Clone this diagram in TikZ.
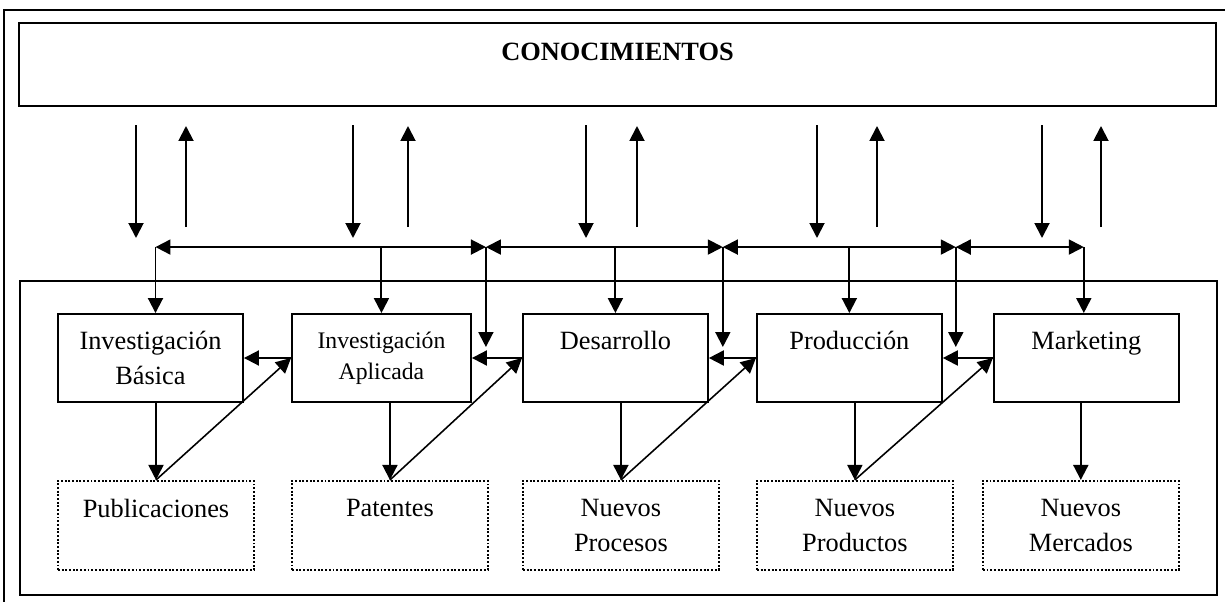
\documentclass[tikz,border=0pt]{standalone}
\usepackage{fontspec}
\setmainfont{Liberation Serif}
\usetikzlibrary{positioning, arrows.meta}

\begin{document}
\begin{tikzpicture}[x=0.02cm, y=-0.02cm, line width=1.1pt, on grid,
    >={Triangle[length=0.3cm, width=0.3cm]},
    stage/.style={draw, rectangle, inner sep=0pt, align=center, minimum width=3.7cm, minimum height=1.76cm, font=\fontsize{15}{19.9}\selectfont},
    result/.style={stage, densely dotted, minimum width=3.92cm, minimum height=1.78cm}]
    \useasboundingbox (0,0) rectangle (1225,602);
    \draw (4,602) |- (1225,10);

    \node[draw, inner sep=0pt, minimum width=23.94cm, minimum height=1.66cm, text depth=15pt, font=\fontsize{15}{19.9}\selectfont\bfseries] (kno) at (617.5,64.5) {CONOCIMIENTOS};
    \node[draw, minimum width=23.94cm, minimum height=6.28cm] (area) at (618.5,438) {};

    % etapas
    \node[stage] (ib) at (150.5,358) {Investigación\\Básica};
    \node[stage, right=4.62cm of ib, minimum width=3.58cm, font=\fontsize{13.5}{17.6}\selectfont] (ia) {Investigación\\Aplicada};
    \node[stage, right=4.68cm of ia] (des) {Desarrollo\\\mbox{}};
    \node[stage, right=4.68cm of des] (prod) {Producción\\\mbox{}};
    \node[stage, right=4.74cm of prod] (mkt) {Marketing\\\mbox{}};

    % resultados
    \node[result, anchor=north west] (pub) at ([yshift=-1.54cm]ib.south west) {Publicaciones\\\mbox{}};
    \node[result, anchor=north west] (pat) at ([yshift=-1.54cm]ia.south west) {Patentes\\\mbox{}};
    \node[result, anchor=north west] (npr) at ([yshift=-1.54cm]des.south west) {Nuevos\\Procesos};
    \node[result, anchor=north west] (npd) at ([yshift=-1.54cm]prod.south west) {Nuevos\\Productos};
    \node[result, anchor=north east] (nme) at ([yshift=-1.54cm]mkt.south east) {Nuevos\\Mercados};

    % flechas con conocimientos
    \foreach \d/\u [count=\i] in {136/186, 353/408, 586/637, 817/877, 1042/1101} {
      \coordinate (dn\i) at (\d,125);
      \coordinate (dnend\i) at (\d,238);
      \coordinate (up\i) at (\u,227);
      \coordinate (upend\i) at (\u,126);
      \draw[->] (dn\i) -- (dnend\i);
      \draw[->] (up\i) -- (upend\i);
    }

    % linea de enlace
    \coordinate[above right=1.32cm and 0.1cm of ib.north] (j1);
    \coordinate[above right=1.32cm and 0.28cm of ia.north east] (j2);
    \coordinate[above right=1.32cm and 0.28cm of des.north east] (j3);
    \coordinate[above right=1.32cm and 0.26cm of prod.north east] (j4);
    \coordinate[above left=1.32cm and 0.05cm of mkt.north] (j5);

    \draw[<->] (j1) -- (j2);
    \draw[<->] (j2) -- (j3);
    \draw[<->] (j3) -- (j4);
    \draw[<->] (j4) -- (j5);
    \draw[->] (j1) -- (j1 |- ib.north);
    \draw[->] (ia.north |- j1) -- (ia.north);
    \draw[->] (des.north |- j1) -- (des.north);
    \draw[->] (prod.north |- j1) -- (prod.north);
    \draw[->] (j5) -- (j5 |- mkt.north);
    \draw[->] (j2) -- ([yshift=0.22cm]ia.east -| j2);
    \draw[->] (j3) -- ([yshift=0.22cm]des.east -| j3);
    \draw[->] (j4) -- ([yshift=0.22cm]prod.east -| j4);

    % entre etapas
    \draw[->] (ia) -- (ib);
    \draw[->] (des) -- (ia);
    \draw[->] (prod) -- (des);
    \draw[->] (mkt) -- (prod);

    \draw[->] (pub.north |- ib.south) -- (pub.north);
    \draw[->] (pat.north |- ia.south) -- (pat.north);
    \draw[->] (npr.north |- des.south) -- (npr.north);
    \draw[->] (npd.north |- prod.south) -- (npd.north);
    \draw[->] (nme.north |- mkt.south) -- (nme.north);

    \draw[->, line width=0.9pt] (pub.north) -- (ia.west);
    \draw[->, line width=0.9pt] (pat.north) -- (des.west);
    \draw[->, line width=0.9pt] (npr.north) -- (prod.west);
    \draw[->, line width=0.9pt] (npd.north) -- (mkt.west);
\end{tikzpicture}
\end{document}
